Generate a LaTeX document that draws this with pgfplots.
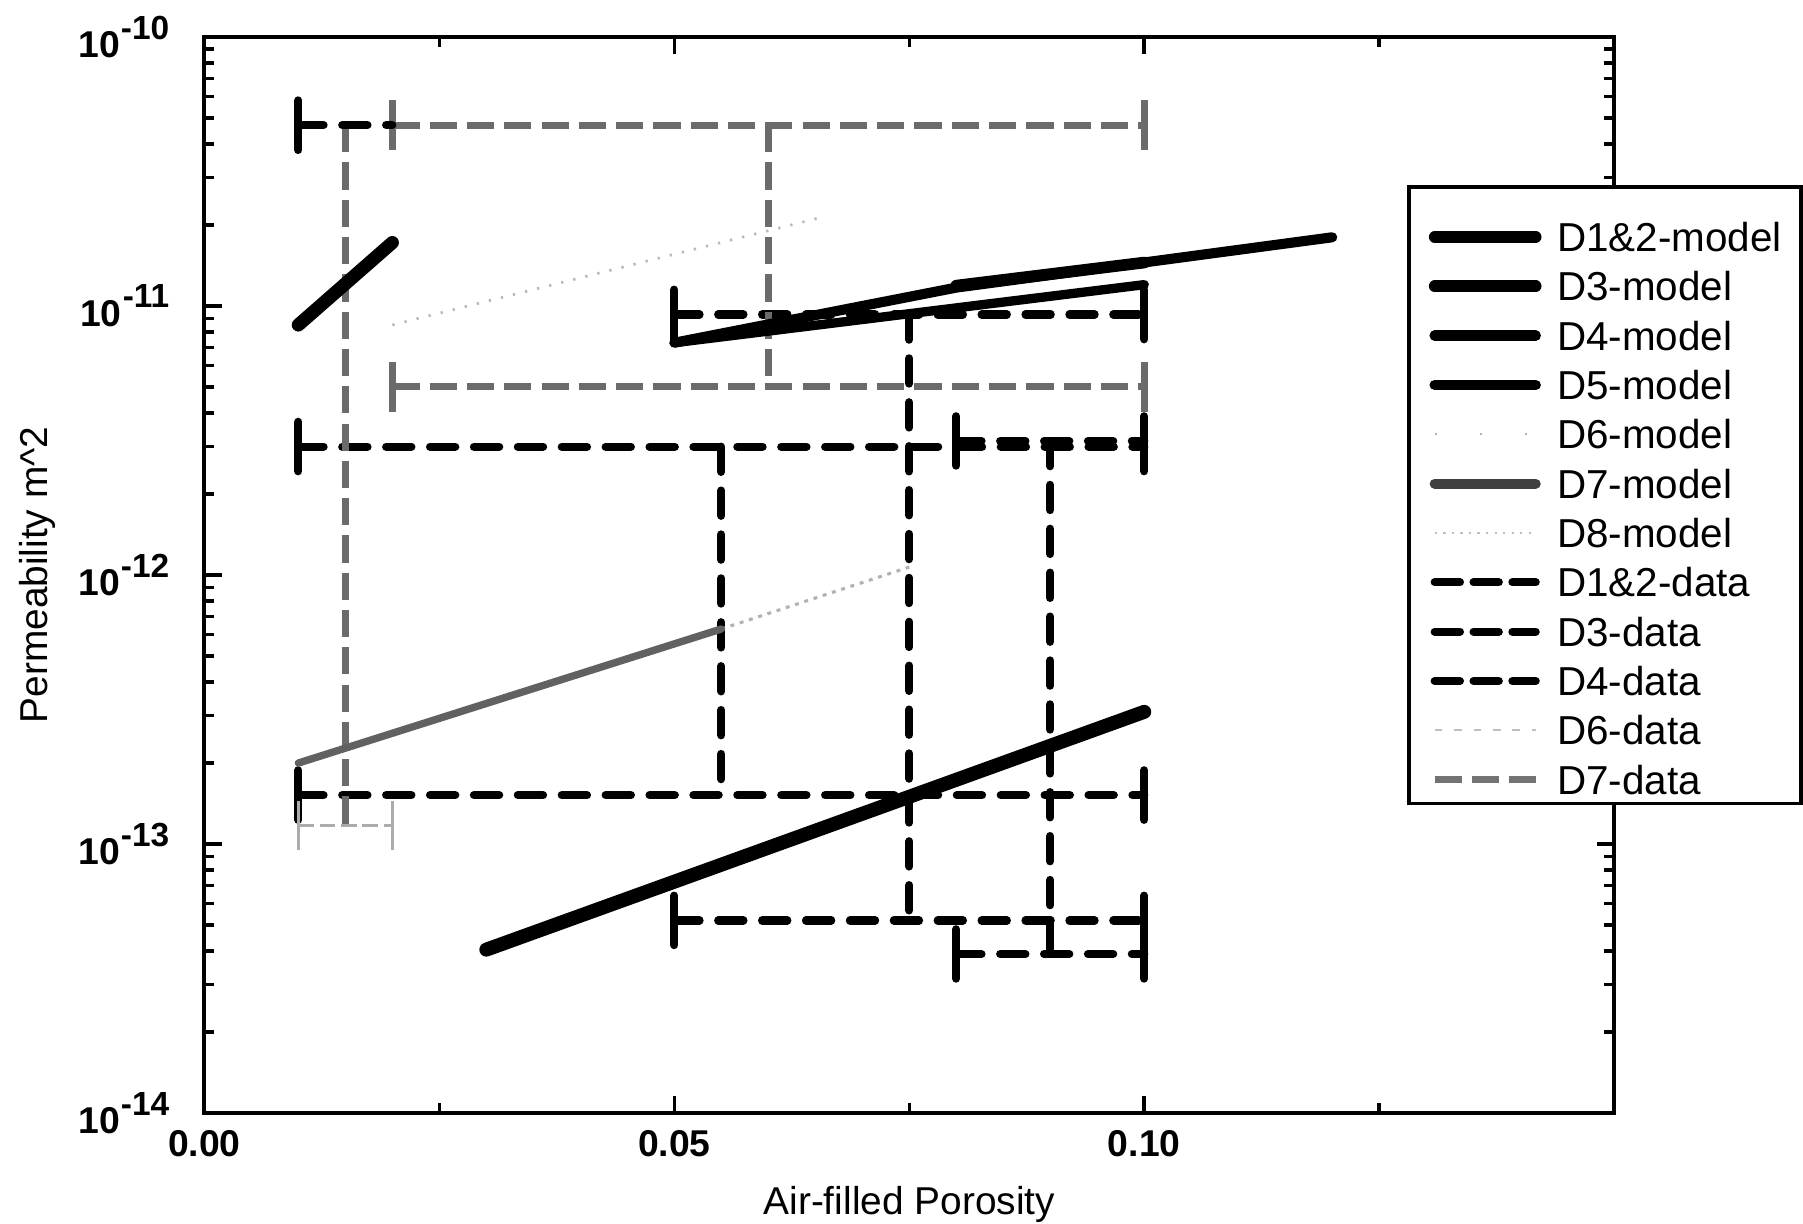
\documentclass[border=0pt]{standalone}
\usepackage{fontspec}
\setmainfont{Liberation Sans}
\newfontfamily\condfont[FakeStretch=0.9]{Liberation Sans}
\usepackage{pgfplots}
\pgfplotsset{compat=1.18}
\newcommand{\ylab}[1]{10\kern0.3pt\raisebox{0.95ex}{\fontsize{8.6}{9}\selectfont\bfseries -#1}}
\tikzset{
  bd/.style={black, line width=2.1pt, dash pattern=on 6.5pt off 4.8pt, line cap=round},
  bc/.style={black, line width=2.1pt, solid, line cap=round},
  gd/.style={black!58, line width=1.8pt, dash pattern=on 7pt off 2.6pt, line cap=butt},
  gc/.style={black!58, line width=1.8pt, solid, line cap=butt},
  fd/.style={gray!65, line width=0.7pt, dash pattern=on 4pt off 1.5pt},
  fc/.style={gray!65, line width=0.7pt, solid},
}
\begin{document}
\begin{tikzpicture}
\begin{axis}[
  scale only axis, width=362.9pt, height=277pt,
  xmin=0, xmax=0.15, ymin=1e-14, ymax=1e-10, ymode=log,
  xtick={0,0.05,0.10}, xticklabels={0.00,0.05,0.10},
  minor xtick={0.025,0.075,0.125},
  ytick={1e-14,1e-13,1e-12,1e-11,1e-10},
  yticklabels={\ylab{14},\ylab{13},\ylab{12},\ylab{11},\ylab{10}},
  tick align=inside,
  major tick length=4.5pt, minor tick length=2.5pt,
  every tick/.style={black, line width=0.9pt},
  axis line style={line width=1pt},
  tick label style={font=\fontsize{9.6}{11}\selectfont\bfseries},
  xticklabel style={yshift=-1pt},
  yticklabel style={xshift=-5.5pt},
  xlabel={Air-filled Porosity},
  ylabel={Permeability m\textasciicircum 2},
  label style={font=\condfont\fontsize{11}{13}\selectfont},
  every axis x label/.style={at={(axis description cs:0.5,-0.0845)}, anchor=center, inner sep=0pt},
  every axis y label/.style={at={(axis description cs:-0.1182,0.5)}, anchor=center, rotate=90, inner sep=0pt},
  legend style={at={(0.8534,0.8627)}, anchor=north west, draw=black, line width=1pt,
    font=\fontsize{10.4}{12}\selectfont, cells={anchor=west}, row sep=-1.6pt,
    inner xsep=5pt, inner ysep=2.4pt,
    nodes={inner sep=0pt, text height=14.3pt, text depth=0pt},
    /tikz/every odd column/.append style={column sep=4pt}},
  legend image code/.code={\draw[#1] (0pt,-3.4pt) -- (26pt,-3.4pt);},
  unbounded coords=jump,
]
% ---------------- data bars (black dashed) ----------------
% D1&2-data
\addplot[bd, forget plot] coordinates {(0.01,3.0e-12) (0.10,3.0e-12) (0.10,nan) (0.01,1.52e-13) (0.10,1.52e-13) (0.10,nan) (0.055,3.0e-12) (0.055,1.52e-13)};
\addplot[bc, forget plot] coordinates {(0.01,2.43e-12) (0.01,3.71e-12) (0.01,nan) (0.10,2.43e-12) (0.10,3.71e-12) (0.10,nan) (0.01,1.23e-13) (0.01,1.88e-13) (0.01,nan) (0.10,1.23e-13) (0.10,1.88e-13)};
% D3-data
\addplot[bd, forget plot] coordinates {(0.05,9.3e-12) (0.10,9.3e-12) (0.10,nan) (0.05,5.2e-14) (0.10,5.2e-14) (0.10,nan) (0.075,9.3e-12) (0.075,5.2e-14)};
\addplot[bc, forget plot] coordinates {(0.05,7.52e-12) (0.05,1.15e-11) (0.05,nan) (0.10,7.52e-12) (0.10,1.15e-11) (0.10,nan) (0.05,4.21e-14) (0.05,6.43e-14) (0.05,nan) (0.10,4.21e-14) (0.10,6.43e-14)};
% D4-data
\addplot[bd, forget plot] coordinates {(0.08,3.15e-12) (0.10,3.15e-12) (0.10,nan) (0.08,3.9e-14) (0.10,3.9e-14) (0.10,nan) (0.09,3.15e-12) (0.09,3.9e-14)};
\addplot[bc, forget plot] coordinates {(0.08,2.55e-12) (0.08,3.89e-12) (0.08,nan) (0.10,2.55e-12) (0.10,3.89e-12) (0.10,nan) (0.08,3.16e-14) (0.08,4.82e-14) (0.08,nan) (0.10,3.16e-14) (0.10,4.82e-14)};
% ---------------- data bars (gray) ----------------
% D7-data
\addplot[gd, forget plot] coordinates {(0.02,4.7e-11) (0.10,4.7e-11) (0.10,nan) (0.02,5.0e-12) (0.10,5.0e-12) (0.10,nan) (0.06,4.7e-11) (0.06,5.0e-12)};
\addplot[gc, forget plot] coordinates {(0.02,3.8e-11) (0.02,5.81e-11) (0.02,nan) (0.10,3.8e-11) (0.10,5.81e-11) (0.10,nan) (0.02,4.05e-12) (0.02,6.18e-12) (0.02,nan) (0.10,4.05e-12) (0.10,6.18e-12)};
% D6-data
\addplot[gd, forget plot] coordinates {(0.015,4.7e-11) (0.015,1.17e-13)};
\addplot[bd, forget plot] coordinates {(0.01,4.7e-11) (0.02,4.7e-11)};
\addplot[bc, forget plot] coordinates {(0.01,3.8e-11) (0.01,5.81e-11)};
\addplot[fd, forget plot] coordinates {(0.01,1.17e-13) (0.02,1.17e-13)};
\addplot[fc, forget plot] coordinates {(0.01,9.5e-14) (0.01,1.45e-13) (0.01,nan) (0.02,9.5e-14) (0.02,1.45e-13)};
% ---------------- model lines ----------------
\addplot[black, line width=3.6pt, line cap=round, forget plot] coordinates {(0.03,4.05e-14) (0.10,3.1e-13)};
\addplot[black, line width=3.4pt, line cap=round, forget plot] coordinates {(0.01,8.5e-12) (0.02,1.72e-11)};
\addplot[black, line width=2.4pt, line cap=round, forget plot] coordinates {(0.05,7.3e-12) (0.10,1.2e-11)};
\addplot[black, line width=2.6pt, line cap=round, line join=round, forget plot] coordinates {(0.05,7.3e-12) (0.08,1.17e-11) (0.12,1.8e-11)};
\addplot[black, line width=3.0pt, line cap=round, forget plot] coordinates {(0.08,1.19e-11) (0.10,1.45e-11)};
\addplot[gray!60, line width=0.8pt, dash pattern=on 1pt off 1.5pt, forget plot] coordinates {(0.055,6.3e-13) (0.075,1.07e-12)};
\addplot[black!62, line width=1.9pt, line cap=round, forget plot] coordinates {(0.01,2.0e-13) (0.055,6.3e-13)};
\addplot[gray!55, line width=0.7pt, dash pattern=on 0.6pt off 2.6pt, forget plot] coordinates {(0.02,8.5e-12) (0.066,2.15e-11)};
% ---------------- legend ----------------
\addlegendimage{black, line width=3pt, line cap=round}
\addlegendentry{D1\&2-model}
\addlegendimage{black, line width=3pt, line cap=round}
\addlegendentry{D3-model}
\addlegendimage{black, line width=2.7pt, line cap=round}
\addlegendentry{D4-model}
\addlegendimage{black, line width=2.7pt, line cap=round}
\addlegendentry{D5-model}
\addlegendimage{gray!60, line width=0.6pt, dash pattern=on 0.6pt off 11pt}
\addlegendentry{D6-model}
\addlegendimage{black!75, line width=2.6pt, line cap=round}
\addlegendentry{D7-model}
\addlegendimage{gray!50, line width=0.7pt, dash pattern=on 0.6pt off 1.6pt}
\addlegendentry{D8-model}
\addlegendimage{black, line width=2.1pt, dash pattern=on 6.5pt off 3.5pt, line cap=round}
\addlegendentry{D1\&2-data}
\addlegendimage{black, line width=2.1pt, dash pattern=on 6.5pt off 3.5pt, line cap=round}
\addlegendentry{D3-data}
\addlegendimage{black, line width=2.1pt, dash pattern=on 6.5pt off 3.5pt, line cap=round}
\addlegendentry{D4-data}
\addlegendimage{gray!50, line width=0.5pt, dash pattern=on 2pt off 3pt}
\addlegendentry{D6-data}
\addlegendimage{black!55, line width=1.8pt, dash pattern=on 7pt off 2.5pt}
\addlegendentry{D7-data}
\end{axis}
% page margins as in the reference
\path ([xshift=-52.6pt]current axis.west) ([yshift=9.5pt]current axis.north) ([yshift=-28.5pt]current axis.south);
\end{tikzpicture}
\end{document}
